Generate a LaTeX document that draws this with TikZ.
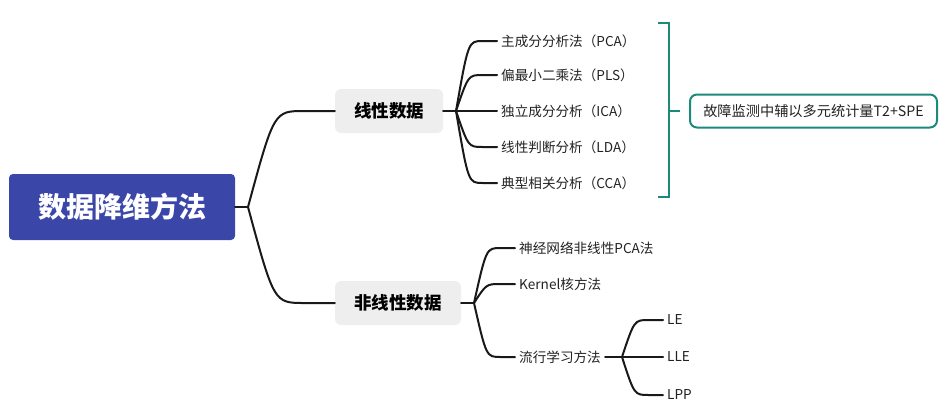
\documentclass[tikz,border=0pt]{standalone}
\usepackage{fontspec}
\setmainfont{Noto Sans CJK SC}
\usetikzlibrary{calc}
\definecolor{rootblue}{HTML}{3A47A8}
\definecolor{boxgray}{HTML}{EEEEEE}
\definecolor{teal2}{HTML}{1A8A7A}
\definecolor{txt}{HTML}{222222}
\tikzset{
  conn/.style={line width=2pt, draw=black!90, line cap=round},
  rootbox/.style={rectangle, rounded corners=4pt, fill=rootblue, text=white, font=\fontsize{28}{30}\selectfont\bfseries, minimum width=226pt, minimum height=66pt, inner sep=0pt},
  midbox/.style={rectangle, rounded corners=6pt, fill=boxgray, text=black, font=\fontsize{17.5}{19}\selectfont\bfseries, minimum height=44pt, inner sep=0pt},
  leaf/.style={anchor=west, inner xsep=4pt, inner ysep=0pt, text=txt, font=\fontsize{13.6}{15}\selectfont},
  notebox/.style={rectangle, rounded corners=7pt, draw=teal2, line width=2pt, text=txt, font=\fontsize{14.2}{16}\selectfont, minimum width=247pt, minimum height=33pt, inner sep=0pt},
  bracket/.style={draw=teal2, line width=2pt}
}
\newcommand\mmbranch[2]{\draw[conn] let \p1=(#1), \p2=(#2) in (\p1) .. controls ({\x1+0.3*(\x2-\x1)},\y2) .. ({\x1+0.65*(\x2-\x1)},\y2) -- (\p2);}
\begin{document}
\begin{tikzpicture}[x=1pt,y=-1pt]
\useasboundingbox (0,0) rectangle (950,416);
% root
\node[rootbox] (root) at (122,207) {数据降维方法};
\coordinate (j0) at (248,207);
\node[midbox, minimum width=108pt] (lin) at (389,111) {线性数据};
\node[midbox, minimum width=126pt] (nonlin) at (398,303) {非线性数据};
\draw[conn] (root.east) -- (j0);
\mmbranch{j0}{lin.west}
\mmbranch{j0}{nonlin.west}
% linear children
\coordinate (j1) at (456,111);
\draw[conn] (lin.east) -- (j1);
\node[leaf] (pca) at (497,41) {主成分分析法（PCA）};
\node[leaf] (pls) at (497,75) {偏最小二乘法（PLS）};
\node[leaf] (ica) at (497,111) {独立成分分析（ICA）};
\node[leaf] (lda) at (497,147) {线性判断分析（LDA）};
\node[leaf] (cca) at (497,183) {典型相关分析（CCA）};
\foreach \c in {pca,pls,ica,lda,cca}{\mmbranch{j1}{\c.west}}
% bracket and note
\coordinate (bt) at (658,23);
\coordinate (bb) at (658,197);
\coordinate (bm) at (669,111);
\node[notebox] (note) at (813.5,111) {故障监测中辅以多元统计量T2+SPE};
\draw[bracket] (bt) -| (bb -| bm) -- (bb);
\draw[bracket] (bm) -- (note.west -| 680,0);
% nonlinear children
\coordinate (j2) at (474,303);
\draw[conn] (nonlin.east) -- (j2);
\node[leaf] (nn) at (515,248) {神经网络非线性PCA法};
\node[leaf] (ker) at (515,284) {Kernel核方法};
\node[leaf] (man) at (515,357) {流行学习方法};
\foreach \c in {nn,ker,man}{\mmbranch{j2}{\c.west}}
\coordinate (j3) at (622,357);
\draw[conn] (man.east) -- (j3);
\node[leaf] (le) at (663,320) {LE};
\node[leaf] (lle) at (663,357) {LLE};
\node[leaf] (lpp) at (663,395) {LPP};
\foreach \c in {le,lle,lpp}{\mmbranch{j3}{\c.west}}
\end{tikzpicture}
\end{document}
